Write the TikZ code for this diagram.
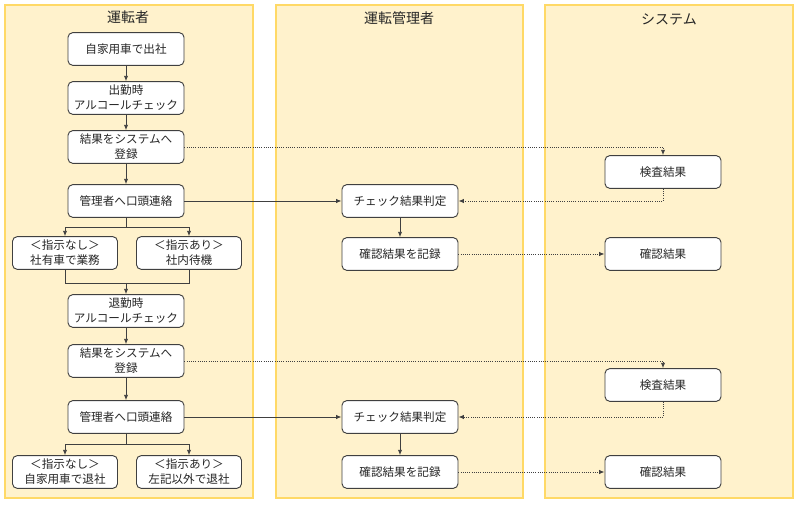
\documentclass[tikz,border=0pt]{standalone}
\usepackage{fontspec}
\setmainfont{Noto Sans CJK JP}
\usetikzlibrary{arrows.meta}
\definecolor{lanefill}{HTML}{FFF2CC}
\definecolor{laneline}{HTML}{FFD966}
\definecolor{boxline}{HTML}{404040}
\tikzset{
  lane/.style={draw=laneline, fill=lanefill, line width=0.8pt},
  lanetitle/.style={font=\fontsize{10.5}{12}\selectfont, text=black!85},
  box/.style={draw=boxline, fill=white, rounded corners=3.5pt, line width=0.7pt,
    minimum width=87pt, minimum height=24.5pt, inner sep=0pt, align=center,
    font=\fontsize{8.7}{11.25}\selectfont, text=black!85},
  smallbox/.style={box, minimum width=78.75pt},
  conn/.style={draw=boxline, line width=0.65pt},
  arr/.style={conn, -{Latex[length=4pt,width=3.2pt]}},
  dotarr/.style={arr, densely dotted},
}
\begin{document}
\begin{tikzpicture}[x=0.75pt,y=-0.75pt]
\useasboundingbox (0,0) rectangle (800,505);
% lanes
\draw[lane] (5,5) rectangle (253,498);
\draw[lane] (276,5) rectangle (523,498);
\draw[lane] (545,5) rectangle (793,498);
\node[lanetitle] (t1) at (128,17) {運転者};
\node[lanetitle] (t2) at (399,18) {運転管理者};
\node[lanetitle] (t3) at (669,19) {システム};
% driver lane
\node[box] (n1) at (126,49) {自家用車で出社};
\node[box] (n2) at (126,98) {出勤時\\アルコールチェック};
\node[box] (n3) at (126,147) {結果をシステムへ\\登録};
\node[box] (n4) at (126,201) {管理者へ口頭連絡};
\node[smallbox] (a1) at (65,253) {＜指示なし＞\\社有車で業務};
\node[smallbox] (a2) at (189,253) {＜指示あり＞\\社内待機};
\node[box] (n5) at (126,311) {退勤時\\アルコールチェック};
\node[box] (n6) at (126,361) {結果をシステムへ\\登録};
\node[box] (n7) at (126,417) {管理者へ口頭連絡};
\node[smallbox] (c1) at (65,472) {＜指示なし＞\\自家用車で退社};
\node[smallbox] (c2) at (189,472) {＜指示あり＞\\左記以外で退社};
% manager lane
\node[box] (k1) at (400,201) {チェック結果判定};
\node[box] (k2) at (400,254) {確認結果を記録};
\node[box] (k3) at (400,417) {チェック結果判定};
\node[box] (k4) at (400,472) {確認結果を記録};
% system lane
\node[box] (s1) at (663,172) {検査結果};
\node[box] (r1) at (663,254) {確認結果};
\node[box] (s2) at (663,385) {検査結果};
\node[box] (r2) at (663,472) {確認結果};
% coordinates
\coordinate (b1) at (126,227);
\coordinate (m1) at (126,283);
\coordinate (b2) at (126,444);
% driver flow
\draw[arr] (n1) -- (n2);
\draw[arr] (n2) -- (n3);
\draw[arr] (n3) -- (n4);
\draw[conn] (n4.south) -- (b1);
\draw[arr] (b1) -| (a1.north);
\draw[arr] (b1) -| (a2.north);
\draw[conn] (a1.south) |- (m1);
\draw[conn] (a2.south) |- (m1);
\draw[arr] (m1) -- (n5.north);
\draw[arr] (n5) -- (n6);
\draw[arr] (n6) -- (n7);
\draw[conn] (n7.south) -- (b2);
\draw[arr] (b2) -| (c1.north);
\draw[arr] (b2) -| (c2.north);
% cross-lane
\draw[dotarr] (n3.east) -| (s1.north);
\draw[dotarr] (s1.south) |- (k1.east);
\draw[arr] (n4.east) -- (k1.west);
\draw[arr] (k1) -- (k2);
\draw[dotarr] (k2.east) -- (r1.west);
\draw[dotarr] (n6.east) -| (s2.north);
\draw[dotarr] (s2.south) |- (k3.east);
\draw[arr] (n7.east) -- (k3.west);
\draw[arr] (k3) -- (k4);
\draw[dotarr] (k4.east) -- (r2.west);
\end{tikzpicture}
\end{document}
